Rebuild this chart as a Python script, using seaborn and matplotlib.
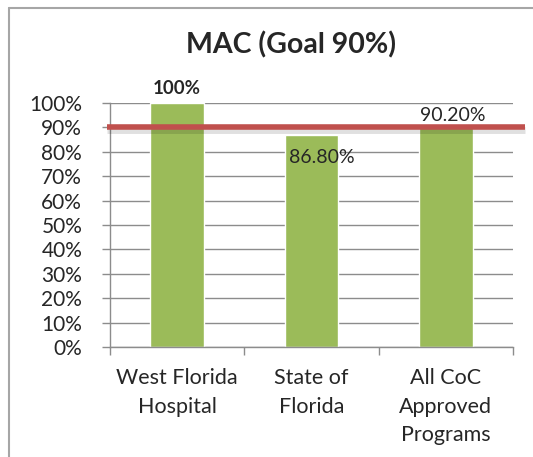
import pandas as pd
import seaborn as sns
import matplotlib.pyplot as plt
from matplotlib.lines import Line2D

categories = ["West Florida\nHospital", "State of\nFlorida", "All CoC\nApproved\nPrograms"]
values = [100.0, 86.8, 90.2]
value_labels = ["100%", "86.80%", "90.20%"]
goal = 90
yticks = list(range(0, 101, 10))

df = pd.DataFrame({"group": categories, "pct": values})

sns.set_style("white")
plt.rcParams["font.family"] = ["Lato", "DejaVu Sans"]

fig = plt.figure(figsize=(5.33, 4.57), dpi=100)
ax = fig.add_axes([0.2064, 0.2407, 0.756, 0.5339])

sns.barplot(data=df, x="group", y="pct", color="#9BBB59", width=0.4,
            saturation=1, ax=ax, zorder=2)

ax.set_xlim(-0.5, 2.5)
ax.set_ylim(0, 100)
ax.set_yticks(yticks)
ax.set_yticklabels([f"{t}%" for t in yticks])
ax.yaxis.grid(True, color="#8C8C8C", linewidth=1)
ax.set_axisbelow(True)
ax.set_xlabel("")
ax.set_ylabel("")

for s in ["top", "right"]:
    ax.spines[s].set_visible(False)
for s in ["left", "bottom"]:
    ax.spines[s].set_color("#8C8C8C")
    ax.spines[s].set_linewidth(1)

ax.tick_params(axis="y", length=6, width=1, color="#8C8C8C", pad=14,
               labelsize=15, left=True)
ax.tick_params(axis="x", which="major", length=0, pad=15, labelsize=15.5)
ax.set_xticks([-0.5, 0.5, 1.5, 2.5], minor=True)
ax.tick_params(axis="x", which="minor", length=6, width=1, color="#8C8C8C",
               bottom=True)
for lab in ax.get_xticklabels():
    lab.set_linespacing(1.55)

# goal line with a soft shadow
ax.plot([-0.52, 2.59], [goal - 1.2, goal - 1.2], color="#000000", alpha=0.12,
        linewidth=5, clip_on=False, zorder=3, solid_capstyle="butt")
ax.plot([-0.52, 2.59], [goal, goal], color="#C0504D", linewidth=4,
        clip_on=False, zorder=4, solid_capstyle="butt")

# data labels
ax.text(0, values[0] + 2.5, value_labels[0], ha="center", va="bottom",
        fontsize=13.5, fontweight="bold", zorder=5)
ax.text(1.08, values[1] - 5.5, value_labels[1], ha="center", va="top",
        fontsize=14, zorder=5)
ax.text(2.05, goal + 1.2, value_labels[2], ha="center", va="bottom",
        fontsize=14, zorder=5)

fig.text(0.546, 0.902, "MAC (Goal 90%)", ha="center", va="center",
         fontsize=20.5, fontweight="bold")

# chart border
fig.add_artist(Line2D([0.017, 0.017], [0, 0.982], color="#A6A6A6", linewidth=1.5))
fig.add_artist(Line2D([0.017, 1], [0.982, 0.982], color="#A6A6A6", linewidth=1.5))

fig.savefig("out.png", dpi=100)
